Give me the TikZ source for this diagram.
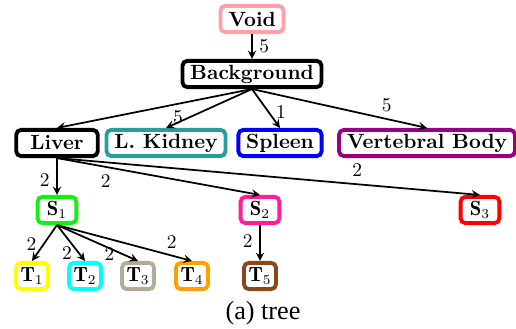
\documentclass[tikz,border=0pt]{standalone}
\usepackage{amsmath}
\usepackage{amssymb}
\usepackage{fontspec}
\newfontfamily\capfont{Liberation Serif}
\usepackage{tikz}
\usetikzlibrary{arrows}

\definecolor{voidpink}{RGB}{255,160,170}
\definecolor{kidneyteal}{RGB}{40,158,156}
\definecolor{spleenblue}{RGB}{0,0,255}
\definecolor{vertpurple}{RGB}{152,0,132}
\definecolor{sgreen}{RGB}{20,240,20}
\definecolor{spink}{RGB}{255,30,150}
\definecolor{sred}{RGB}{255,0,0}
\definecolor{tyellow}{RGB}{255,255,0}
\definecolor{tcyan}{RGB}{0,255,255}
\definecolor{tkhaki}{RGB}{178,172,148}
\definecolor{torange}{RGB}{255,160,0}
\definecolor{tbrown}{RGB}{140,70,25}

\begin{document}
\begin{tikzpicture}[x=0.515pt,y=-0.515pt,
  box/.style={draw, rounded corners=2.5pt, line width=2pt, minimum height=13.5pt,
    inner xsep=4pt, inner ysep=1pt, font=\fontsize{10.6}{12}\selectfont\bfseries},
  sbox/.style={box, minimum width=20pt},
  tbox/.style={box, minimum width=16.5pt, inner xsep=2pt},
  edge/.style={->,>=stealth, line width=0.9pt}]
\useasboundingbox (0,0) rectangle (516,329);

\node[box, draw=voidpink, anchor=center] (1) at (252,19)
{Void};

\node[box, draw=black, anchor=center] (2) at (252,74)
{Background};

\node[box, draw=black, minimum width=42pt, anchor=center] (3) at (57,143)
{Liver};

\node[box, draw=kidneyteal, anchor=center] (4) at (166,143)
{L. Kidney};

\node[box, draw=spleenblue, anchor=center] (5) at (280,143)
{Spleen};

\node[box, draw=vertpurple, anchor=center] (6) at (427,143)
{Vertebral Body};

\node[sbox, draw=sgreen, anchor=center] (7) at (57,210)
{$\mathbf{S}_1$};

\node[sbox, draw=spink, anchor=center] (8) at (260,210)
{$\mathbf{S}_2$};

\node[sbox, draw=sred, anchor=center] (9) at (480,210)
{$\mathbf{S}_3$};

\node[tbox, draw=tyellow, anchor=center] (10) at (32,276)
{$\mathbf{T}_1$};

\node[tbox, draw=tcyan, anchor=center] (11) at (85,276)
{$\mathbf{T}_2$};

\node[tbox, draw=tkhaki, anchor=center] (12) at (138,276)
{$\mathbf{T}_3$};

\node[tbox, draw=torange, anchor=center] (13) at (192,276)
{$\mathbf{T}_4$};

\node[tbox, draw=tbrown, anchor=center] (14) at (260,276)
{$\mathbf{T}_5$};


\draw[edge] (1) -- node[right] {5} (2);

\draw[edge] (2.south) -- (3.north);
\draw[edge] (2.south) -- node[pos=0.72, left] {5} (4.north);
\draw[edge] (2.south) -- node[pos=0.6, right] {1} (5.north);
\draw[edge] (2.south) -- node[pos=0.77, above] {5} (6.north);

\draw[edge] (3.south) -- node[pos=0.6, left] {2} (7.north);
\draw[edge] (3.south) -- node[pos=0.24, below] {2} (8.north);
\draw[edge] (3.south) -- node[pos=0.71, above] {2} (9.north);

\draw[edge] (7.south) -- node[pos=0.53, left] {2} (10.north);
\draw[edge] (7.south) -- node[pos=0.79, left] {2} (11.north);
\draw[edge] (7.south) -- node[pos=0.8, left] {2} (12.north);
\draw[edge] (7.south) -- node[pos=0.85, above] {2} (13.north);

\draw[edge] (8.south) -- node[pos=0.45, left] {2} (14.north);

\node[anchor=center, font=\fontsize{13.5}{15}\selectfont\capfont] (15) at (263,313)
{(a) tree};
\end{tikzpicture}
\end{document}
